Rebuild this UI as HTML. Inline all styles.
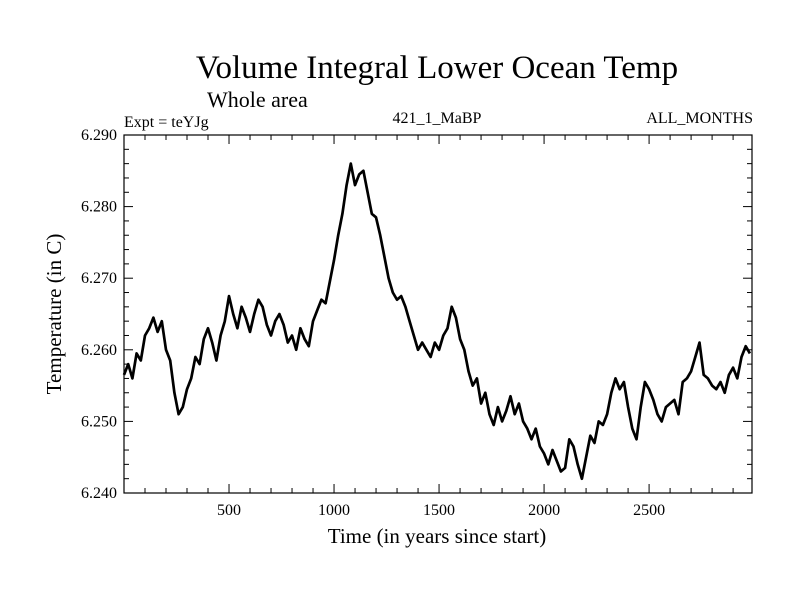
<!DOCTYPE html>
<html><head><meta charset="utf-8"><style>
html,body{margin:0;padding:0;background:#fff;}
svg{display:block;font-family:"Liberation Serif",serif;}
</style></head><body>
<svg id="chart" width="800" height="600">
<text x="437" y="78" font-size="33" text-anchor="middle">Volume Integral Lower Ocean Temp</text>
<text x="207" y="107" font-size="22">Whole area</text>
<text x="124" y="127" font-size="16">Expt = teYJg</text>
<text x="437" y="123" font-size="16" text-anchor="middle">421_1_MaBP</text>
<text x="753" y="123" font-size="16" text-anchor="end">ALL_MONTHS</text>
<text x="437" y="543" font-size="21" text-anchor="middle">Time (in years since start)</text>
<text transform="translate(61,314) rotate(-90)" font-size="21" text-anchor="middle">Temperature (in C)</text>
<g id="axes"></g>
<path id="series" fill="none" stroke="#000" stroke-width="2.7" stroke-linejoin="round"></path>
<rect x="124" y="135" width="628" height="358" fill="none" stroke="#000" stroke-width="1.2"></rect>
</svg>
<script>
const years0 = 0, yearStep = 20;
const temps = [
6.2565,6.2580,6.2560,6.2595,6.2585,6.2620,6.2630,6.2645,6.2625,6.2640,
6.2600,6.2585,6.2540,6.2510,6.2520,6.2545,6.2560,6.2590,6.2580,6.2615,
6.2630,6.2610,6.2585,6.2620,6.2640,6.2675,6.2650,6.2630,6.2660,6.2645,
6.2625,6.2650,6.2670,6.2660,6.2635,6.2620,6.2640,6.2650,6.2635,6.2610,
6.2620,6.2600,6.2630,6.2615,6.2605,6.2640,6.2655,6.2670,6.2665,6.2695,
6.2725,6.2760,6.2790,6.2830,6.2860,6.2830,6.2845,6.2850,6.2820,6.2790,
6.2785,6.2760,6.2730,6.2700,6.2680,6.2670,6.2675,6.2660,6.2640,6.2620,
6.2600,6.2610,6.2600,6.2590,6.2610,6.2600,6.2620,6.2630,6.2660,6.2645,
6.2615,6.2600,6.2570,6.2550,6.2560,6.2525,6.2540,6.2510,6.2495,6.2520,
6.2500,6.2515,6.2535,6.2510,6.2525,6.2500,6.2490,6.2475,6.2490,6.2465,
6.2455,6.2440,6.2460,6.2445,6.2430,6.2435,6.2475,6.2465,6.2440,6.2420,
6.2450,6.2480,6.2470,6.2500,6.2495,6.2510,6.2540,6.2560,6.2545,6.2555,
6.2520,6.2490,6.2475,6.2520,6.2555,6.2545,6.2530,6.2510,6.2500,6.2520,
6.2525,6.2530,6.2510,6.2555,6.2560,6.2570,6.2590,6.2610,6.2565,6.2560,
6.2550,6.2545,6.2555,6.2540,6.2565,6.2575,6.2560,6.2590,6.2605,6.2595];
const xTickLabels = [500,1000,1500,2000,2500];
const yTickLabels = ["6.240","6.250","6.260","6.270","6.280","6.290"];
const xMin=0,xMax=2990,yMin=6.240,yMax=6.290;
const L=124,R=752,T=135,B=493;
const sx=v=>L+(v-xMin)/(xMax-xMin)*(R-L);
const sy=v=>B-(v-yMin)/(yMax-yMin)*(B-T);
const NS="http://www.w3.org/2000/svg";
const axes=document.getElementById('axes');
function line(x1,y1,x2,y2,name){const l=document.createElementNS(NS,'line');
l.setAttribute('x1',x1);l.setAttribute('y1',y1);l.setAttribute('x2',x2);l.setAttribute('y2',y2);
l.setAttribute('stroke','#000');l.setAttribute('stroke-width','1');


axes.appendChild(l);}
for(let v=100;v<xMax;v+=100){const x=sx(v);const len=(v%500===0)?9:5;
line(x,B,x,B-len,'x-tick');line(x,T,x,T+len,'x-tick');}
for(let i=0;i<=25;i++){const v=yMin+i*0.002;const y=sy(v);const len=(i%5===0)?9:5;
line(L,y,L+len,y,'y-tick');line(R,y,R-len,y,'y-tick');}
xTickLabels.forEach(v=>{const t=document.createElementNS(NS,'text');
t.setAttribute('x',sx(v));t.setAttribute('y',B+22);t.setAttribute('font-size','16');t.setAttribute('text-anchor','middle');
t.textContent=v;


axes.appendChild(t);});
yTickLabels.forEach(s=>{const t=document.createElementNS(NS,'text');
t.setAttribute('x',L-7);t.setAttribute('y',sy(parseFloat(s))+5);t.setAttribute('font-size','16');t.setAttribute('text-anchor','end');
t.textContent=s;


axes.appendChild(t);});
let d='';
temps.forEach((v,i)=>{const x=sx(years0+i*yearStep),y=sy(v);d+=(i?'L':'M')+x.toFixed(1)+','+y.toFixed(1);});
document.getElementById('series').setAttribute('d',d);
</script>
</body></html>
